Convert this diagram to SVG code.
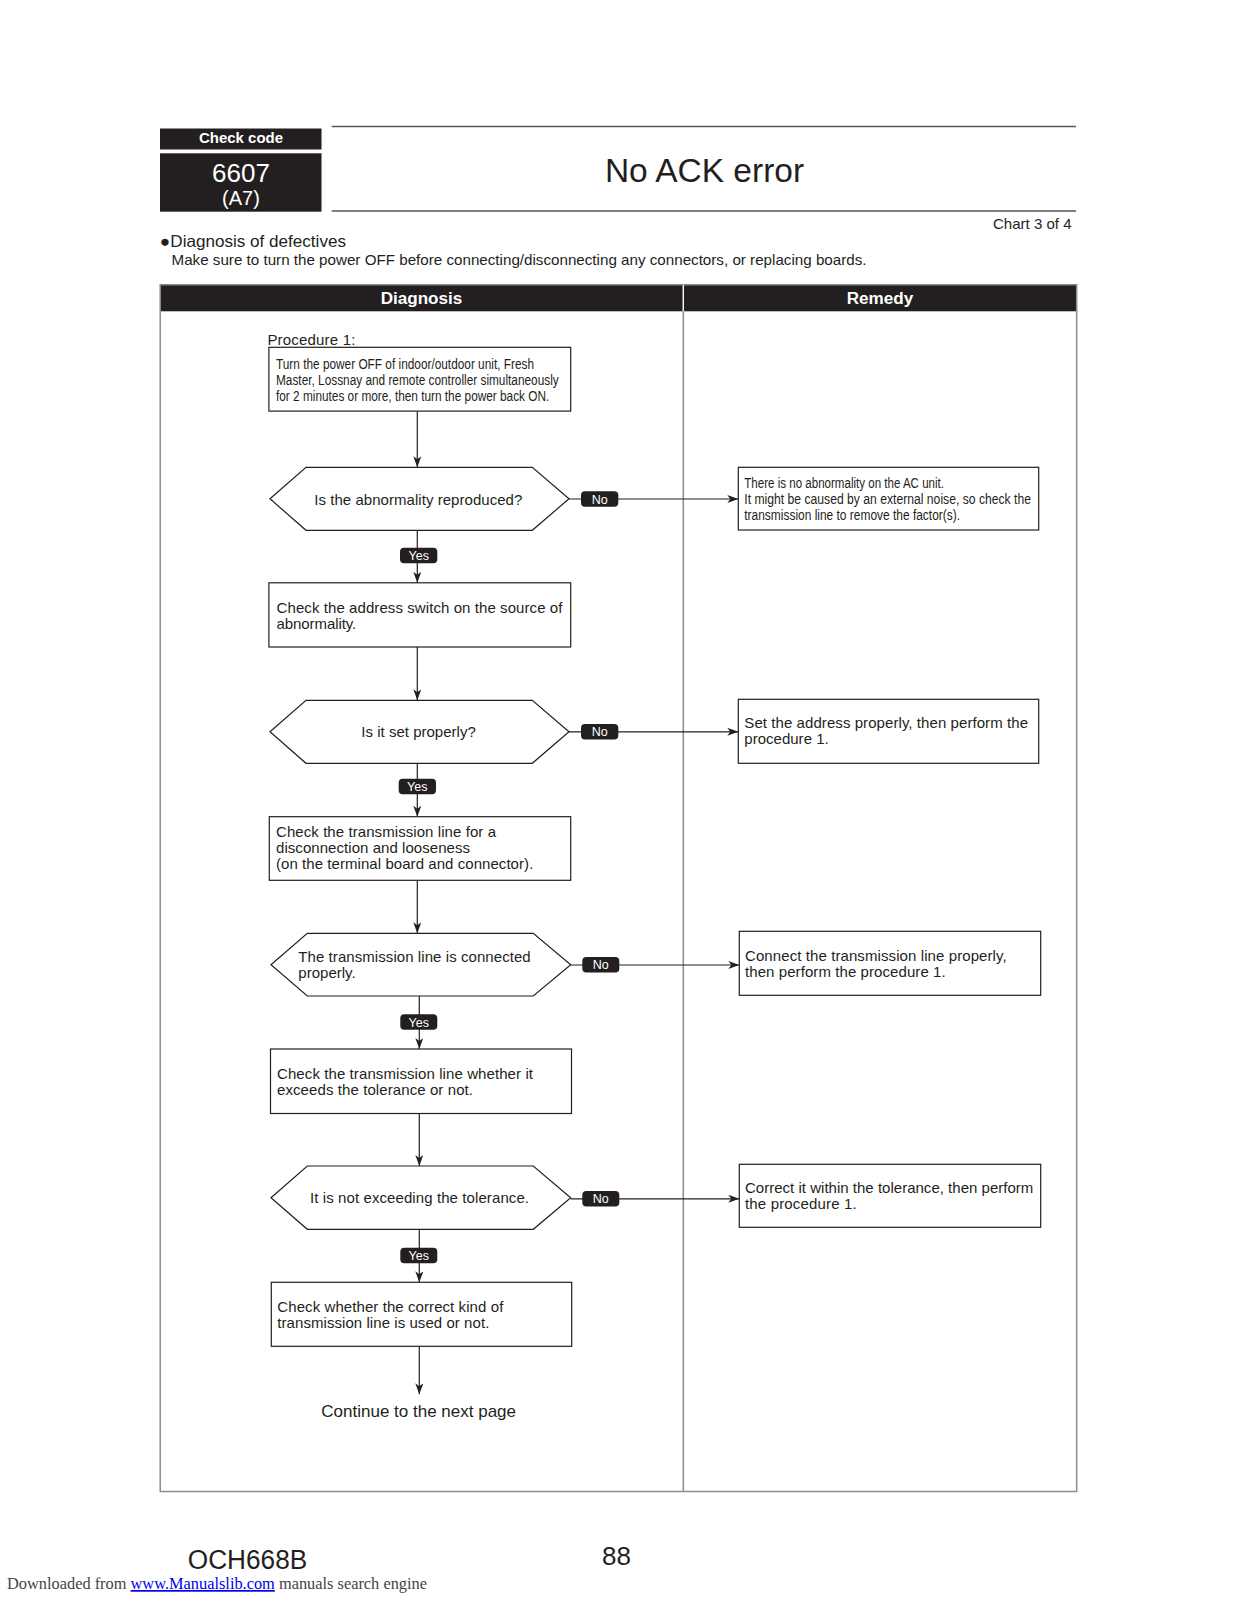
<svg xmlns="http://www.w3.org/2000/svg" width="1237" height="1600" viewBox="0 0 1237 1600">
<style>
.t{font-family:"Liberation Sans",Arial,sans-serif;fill:#231f20}
.f{font-size:15px}
.n{font-size:14px}
.w{fill:#fff}
.b{font-weight:bold}
.box{fill:#fff;stroke:#231f20;stroke-width:1.2}
.pill{fill:#231f20}
.ln{stroke:#231f20;stroke-width:1.2;fill:none}
.tbl{stroke:#8c8c8c;stroke-width:1.5;fill:none}
</style>
<defs>
<marker id="ah" markerWidth="12" markerHeight="10" refX="11" refY="4" orient="auto" markerUnits="userSpaceOnUse">
<path d="M0,0 L11,4 L0,8 L3,4 z" fill="#231f20"/>
</marker>
</defs>
<rect width="1237" height="1600" fill="#fff"/>

<g id="header">
<rect x="160" y="128.5" width="161.5" height="21" fill="#231f20"/>
<text class="t w b" x="241" y="143" font-size="14" text-anchor="middle" textLength="84" lengthAdjust="spacingAndGlyphs">Check code</text>
<rect x="160" y="153.3" width="161.5" height="58.4" fill="#231f20"/>
<text class="t w" x="241" y="181.5" font-size="26" text-anchor="middle">6607</text>
<text class="t w" x="241" y="205" font-size="20" text-anchor="middle">(A7)</text>
<line x1="331.7" y1="126.6" x2="1076" y2="126.6" stroke="#555" stroke-width="1.5"/>
<line x1="331.7" y1="211" x2="1076" y2="211" stroke="#555" stroke-width="1.5"/>
<text class="t" x="704.5" y="182" font-size="33.5" text-anchor="middle">No ACK error</text>
<text class="t" x="1071.6" y="228.5" font-size="15" text-anchor="end" textLength="78.6" lengthAdjust="spacingAndGlyphs">Chart 3 of 4</text>
<text class="t" x="160" y="247" font-size="16.5" textLength="186" lengthAdjust="spacingAndGlyphs">●Diagnosis of defectives</text>
<text class="t" x="171.5" y="265" font-size="15" textLength="695" lengthAdjust="spacingAndGlyphs">Make sure to turn the power OFF before connecting/disconnecting any connectors, or replacing boards.</text>
</g>

<g id="table">
<rect x="160.2" y="284.7" width="916.5" height="26.6" fill="#231f20"/>
<rect class="tbl" x="160.2" y="284.7" width="916.5" height="1206.8"/>
<line class="tbl" x1="683.3" y1="284.7" x2="683.3" y2="1491.5"/>
<line x1="683.3" y1="284.7" x2="683.3" y2="311.3" stroke="#fff" stroke-width="1.2"/>
<text class="t w b" x="421.5" y="304" font-size="16" text-anchor="middle" textLength="81.6" lengthAdjust="spacingAndGlyphs">Diagnosis</text>
<text class="t w b" x="880" y="304" font-size="16" text-anchor="middle" textLength="66.5" lengthAdjust="spacingAndGlyphs">Remedy</text>
</g>

<g id="connectors">
<line class="ln" x1="417.3" y1="411.3" x2="417.3" y2="467.3" marker-end="url(#ah)"/>
<line class="ln" x1="417.3" y1="530.3" x2="417.3" y2="582.8" marker-end="url(#ah)"/>
<line class="ln" x1="417.3" y1="647" x2="417.3" y2="700.3" marker-end="url(#ah)"/>
<line class="ln" x1="417.3" y1="763.3" x2="417.3" y2="816.7" marker-end="url(#ah)"/>
<line class="ln" x1="417.3" y1="880.3" x2="417.3" y2="933.3" marker-end="url(#ah)"/>
<line class="ln" x1="419.3" y1="996" x2="419.3" y2="1049" marker-end="url(#ah)"/>
<line class="ln" x1="419.3" y1="1113.5" x2="419.3" y2="1166" marker-end="url(#ah)"/>
<line class="ln" x1="419.3" y1="1229.3" x2="419.3" y2="1282.3" marker-end="url(#ah)"/>
<line class="ln" x1="419.3" y1="1346.3" x2="419.3" y2="1394.3" marker-end="url(#ah)"/>
<line class="ln" x1="569" y1="499" x2="738.3" y2="499" marker-end="url(#ah)"/>
<line class="ln" x1="569" y1="731.8" x2="738.3" y2="731.8" marker-end="url(#ah)"/>
<line class="ln" x1="570.7" y1="965" x2="739.3" y2="965" marker-end="url(#ah)"/>
<line class="ln" x1="570.7" y1="1198.8" x2="739.3" y2="1198.8" marker-end="url(#ah)"/>
<g id="labels">
<rect class="pill" x="400" y="547.7" width="37.3" height="15.6" rx="4"/>
<text class="t w" x="418.7" y="560" font-size="12.5" text-anchor="middle">Yes</text>
<rect class="pill" x="581" y="491.2" width="37.3" height="15.6" rx="4"/>
<text class="t w" x="599.7" y="503.5" font-size="12.5" text-anchor="middle">No</text>
<rect class="pill" x="398.7" y="778.7" width="37.3" height="15.6" rx="4"/>
<text class="t w" x="417.3" y="791" font-size="12.5" text-anchor="middle">Yes</text>
<rect class="pill" x="581" y="723.9" width="37.3" height="15.6" rx="4"/>
<text class="t w" x="599.7" y="736.2" font-size="12.5" text-anchor="middle">No</text>
<rect class="pill" x="400.3" y="1014.2" width="37" height="15.6" rx="4"/>
<text class="t w" x="418.8" y="1026.5" font-size="12.5" text-anchor="middle">Yes</text>
<rect class="pill" x="582.3" y="957" width="37" height="15.6" rx="4"/>
<text class="t w" x="600.8" y="969.3" font-size="12.5" text-anchor="middle">No</text>
<rect class="pill" x="400.3" y="1247.7" width="37" height="15.6" rx="4"/>
<text class="t w" x="418.8" y="1260" font-size="12.5" text-anchor="middle">Yes</text>
<rect class="pill" x="582.3" y="1191" width="37" height="15.6" rx="4"/>
<text class="t w" x="600.8" y="1203.3" font-size="12.5" text-anchor="middle">No</text>
</g>
</g>

<g id="procedure1">
<text class="t" x="267.4" y="345" font-size="15" textLength="88" lengthAdjust="spacing">Procedure 1:</text>
<rect class="box" x="268.9" y="347.3" width="301.8" height="63.8"/>
<text class="t n" x="276" y="369" textLength="258" lengthAdjust="spacingAndGlyphs">Turn the power OFF of indoor/outdoor unit, Fresh</text>
<text class="t n" x="276" y="385" textLength="282.7" lengthAdjust="spacingAndGlyphs">Master, Lossnay and remote controller simultaneously</text>
<text class="t n" x="276" y="400.7" textLength="273.3" lengthAdjust="spacingAndGlyphs">for 2 minutes or more, then turn the power back ON.</text>
</g>

<g id="decision1">
<polygon class="box" points="270,498.8 306,467.3 532.3,467.3 569,498.8 532.3,530.3 306,530.3"/>
<text class="t f" x="314.3" y="504.5" textLength="208" lengthAdjust="spacing">Is the abnormality reproduced?</text>
</g>

<g id="remedy1">
<rect class="box" x="738.3" y="467.3" width="300.4" height="62.7"/>
<text class="t n" x="744.3" y="488.3" textLength="199.7" lengthAdjust="spacingAndGlyphs">There is no abnormality on the AC unit.</text>
<text class="t n" x="744.3" y="504.3" textLength="286.7" lengthAdjust="spacingAndGlyphs">It might be caused by an external noise, so check the</text>
<text class="t n" x="744.3" y="520" textLength="215.7" lengthAdjust="spacingAndGlyphs">transmission line to remove the factor(s).</text>
</g>

<g id="box2">
<rect class="box" x="268.9" y="582.8" width="301.8" height="64.2"/>
<text class="t f" x="276.6" y="612.8" textLength="285.8" lengthAdjust="spacing">Check the address switch on the source of</text>
<text class="t f" x="276.6" y="628.8" textLength="79.6" lengthAdjust="spacing">abnormality.</text>
</g>

<g id="decision2">
<polygon class="box" points="270,731.8 306,700.3 532.3,700.3 569,731.8 532.3,763.3 306,763.3"/>
<text class="t f" x="361.3" y="737.3" textLength="114.5" lengthAdjust="spacing">Is it set properly?</text>
</g>

<g id="remedy2">
<rect class="box" x="738.3" y="699.3" width="300.4" height="64"/>
<text class="t f" x="744.3" y="728.3" textLength="283.7" lengthAdjust="spacing">Set the address properly, then perform the</text>
<text class="t f" x="744.3" y="744.3" textLength="84.4" lengthAdjust="spacing">procedure 1.</text>
</g>

<g id="box3">
<rect class="box" x="269.3" y="816.7" width="301.4" height="63.6"/>
<text class="t f" x="276" y="837.3" textLength="220" lengthAdjust="spacing">Check the transmission line for a</text>
<text class="t f" x="276" y="853.3" textLength="194" lengthAdjust="spacing">disconnection and looseness</text>
<text class="t f" x="276" y="869.3" textLength="257.3" lengthAdjust="spacing">(on the terminal board and connector).</text>
</g>

<g id="decision3">
<polygon class="box" points="271,964.7 307.3,933.3 533.3,933.3 570.7,964.7 533.3,996 307.3,996"/>
<text class="t f" x="298.3" y="961.7" textLength="232.4" lengthAdjust="spacing">The transmission line is connected</text>
<text class="t f" x="298.3" y="977.7" textLength="57.4" lengthAdjust="spacing">properly.</text>
</g>

<g id="remedy3">
<rect class="box" x="739.3" y="931.3" width="301.4" height="64"/>
<text class="t f" x="745" y="960.7" textLength="261.7" lengthAdjust="spacing">Connect the transmission line properly,</text>
<text class="t f" x="745" y="976.7" textLength="200.7" lengthAdjust="spacing">then perform the procedure 1.</text>
</g>

<g id="box4">
<rect class="box" x="270.5" y="1049" width="301" height="64.5"/>
<text class="t f" x="277" y="1079" textLength="256" lengthAdjust="spacing">Check the transmission line whether it</text>
<text class="t f" x="277" y="1095" textLength="196" lengthAdjust="spacing">exceeds the tolerance or not.</text>
</g>

<g id="decision4">
<polygon class="box" points="271,1197.7 307.3,1166 533.3,1166 570.7,1197.7 533.3,1229.3 307.3,1229.3"/>
<text class="t f" x="310" y="1203.3" textLength="219" lengthAdjust="spacing">It is not exceeding the tolerance.</text>
</g>

<g id="remedy4">
<rect class="box" x="739.3" y="1164.3" width="301.4" height="63"/>
<text class="t f" x="745" y="1193.3" textLength="288.3" lengthAdjust="spacing">Correct it within the tolerance, then perform</text>
<text class="t f" x="745" y="1209.3" textLength="111.7" lengthAdjust="spacing">the procedure 1.</text>
</g>

<g id="box5">
<rect class="box" x="271.3" y="1282.3" width="300.4" height="64"/>
<text class="t f" x="277.3" y="1311.7" textLength="226" lengthAdjust="spacing">Check whether the correct kind of</text>
<text class="t f" x="277.3" y="1327.7" textLength="212" lengthAdjust="spacing">transmission line is used or not.</text>
</g>

<g id="continue">
<text class="t" x="418.7" y="1416.7" font-size="17" text-anchor="middle" textLength="194.7" lengthAdjust="spacing">Continue to the next page</text>
</g>

<g id="footer">
<text class="t" x="187.8" y="1569" font-size="27" textLength="119.4" lengthAdjust="spacingAndGlyphs">OCH668B</text>
<text class="t" x="616.5" y="1565" font-size="26" text-anchor="middle">88</text>
<text x="7" y="1589" font-family="Liberation Serif,'Times New Roman',serif" font-size="17" fill="#444" textLength="420" lengthAdjust="spacingAndGlyphs">Downloaded from <tspan fill="#0000ee" text-decoration="underline">www.Manualslib.com</tspan>  manuals search engine</text>
</g>
</svg>
